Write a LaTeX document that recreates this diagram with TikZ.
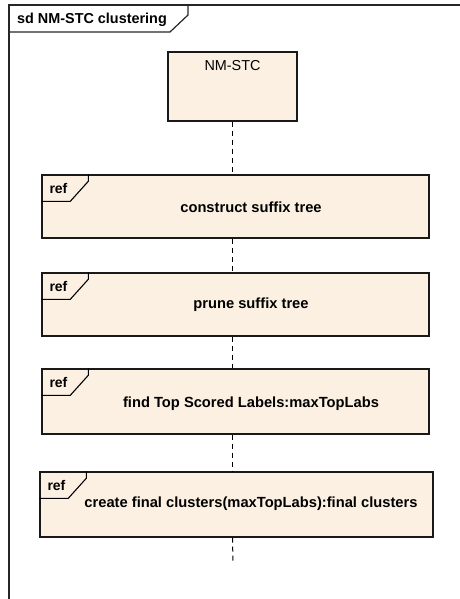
\documentclass[tikz,border=0pt]{standalone}
\usepackage{fontspec}
\setmainfont{Liberation Sans}
\usetikzlibrary{calc}
\definecolor{fragfill}{RGB}{251,240,226}
\begin{document}
\begin{tikzpicture}[x=1pt,y=-1pt,
  framepen/.style={line width=1.2pt,draw=black!85},
  lifebox/.style={rectangle,draw=black!90,line width=1.3pt,fill=fragfill,inner sep=0pt},
  refbox/.style={rectangle,draw=black!90,line width=1.4pt,fill=fragfill,inner sep=0pt,
                 minimum width=387pt,minimum height=63pt},
  tabpen/.style={line width=1.1pt,draw=black},
  reflabel/.style={font=\bfseries\fontsize{14}{16}\selectfont,anchor=west,inner sep=0pt},
  reftext/.style={font=\bfseries\fontsize{14.7}{17}\selectfont,inner sep=0pt},
  lifeline/.style={line width=1pt,dash pattern=on 5pt off 4pt}]
\useasboundingbox (0,0) rectangle (459,599);

% sequence diagram frame and its name tab
\draw[framepen] (9,602) -- (9,5) -- (462,5);
\draw[framepen] (188,5) -- (188,15) -- (170,32) -- (9,32);
\node[anchor=west,inner sep=0pt,font=\bfseries\fontsize{14.4}{16}\selectfont] (title) at (17,20) {sd NM-STC clustering};

% lifeline head
\node[lifebox,minimum width=129pt,minimum height=69pt] (nm) at (232.5,86.5) {};
\node[inner sep=0pt,font=\fontsize{14.4}{16}\selectfont] (nmlabel) at (232.5,66) {NM-STC};

% interaction uses
\node[refbox] (r1) at (235.5,206.5) {};
\node[refbox] (r2) at (235.5,304.5) {};
\node[refbox,minimum height=65pt] (r3) at (235.5,401.5) {};
\node[refbox,minimum width=393pt,minimum height=65pt] (r4) at (236.5,504.5) {};

\foreach \r in {r1,r2,r3,r4}{
  \draw[tabpen] (\r.north west) ++(47,0) -- ++(0,7) -- ++(-18,20) -- ++(-29,0);
  \node[reflabel] at ($(\r.north west)+(8,14)$) {ref};
}

\node[reftext] (t1) at (251,207) {construct suffix tree};
\node[reftext] (t2) at (251,304.5) {prune suffix tree};
\node[reftext] (t3) at (251,404) {find Top Scored Labels:maxTopLabs};
\node[reftext] (t4) at (251,504) {create final clusters(maxTopLabs):final clusters};

% dashed lifeline between the fragments
\coordinate (lifeend) at (233,563);
\draw[lifeline] (nm.south) -- (nm.south |- r1.north);
\draw[lifeline] (nm.south |- r1.south) -- (nm.south |- r2.north);
\draw[lifeline] (nm.south |- r2.south) -- (nm.south |- r3.north);
\draw[lifeline] (nm.south |- r3.south) -- (nm.south |- r4.north);
\draw[lifeline] (nm.south |- r4.south) -- (lifeend);
\end{tikzpicture}
\end{document}
